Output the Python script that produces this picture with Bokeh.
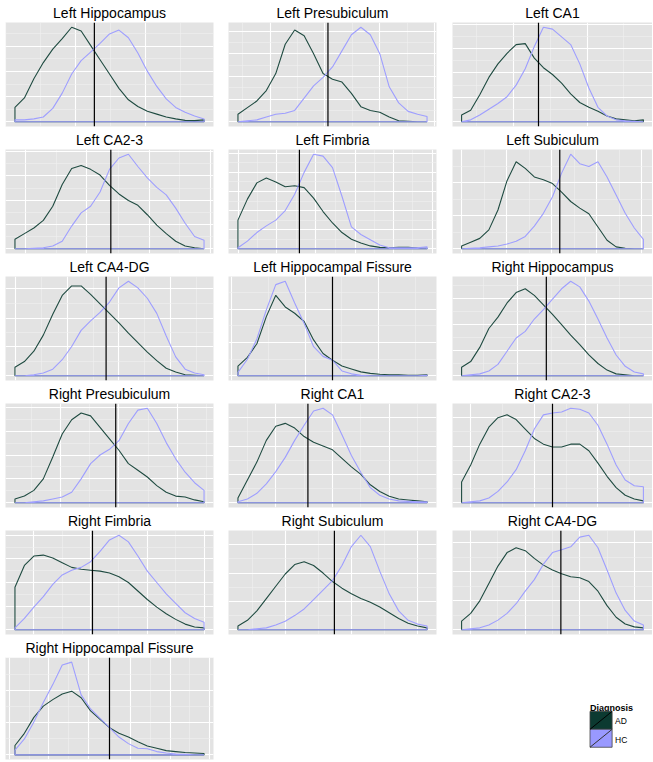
from bokeh.plotting import figure
from bokeh.layouts import gridplot
from bokeh.models import Range1d, Span, FixedTicker, Grid
from bokeh.embed import file_html
from bokeh.resources import INLINE
from bokeh.core.properties import value

# ---------------- data ----------------
# position along each region's value range (0 = min, 1 = max of pooled data)
density_x = [0.00, 0.05, 0.10, 0.15, 0.20, 0.25, 0.30, 0.35, 0.40, 0.45, 0.50,
             0.55, 0.60, 0.65, 0.70, 0.75, 0.80, 0.85, 0.90, 0.95, 1.00]

regions = ["Left Hippocampus", "Left Presubiculum", "Left CA1",
           "Left CA2-3", "Left Fimbria", "Left Subiculum",
           "Left CA4-DG", "Left Hippocampal Fissure", "Right Hippocampus",
           "Right Presubiculum", "Right CA1", "Right CA2-3",
           "Right Fimbria", "Right Subiculum", "Right CA4-DG",
           "Right Hippocampal Fissure"]

diagnoses = ["AD", "HC"]
legend_title = "Diagnosis"

# relative density, AD group
ad_left_hippocampus = [0.15, 0.25, 0.45, 0.62, 0.76, 0.87, 0.99, 0.95, 0.80, 0.65, 0.50, 0.35, 0.23, 0.16, 0.11, 0.08, 0.05, 0.03, 0.015, 0.012, 0.02]
ad_left_presubiculum = [0.08, 0.15, 0.22, 0.33, 0.51, 0.82, 0.97, 0.91, 0.72, 0.51, 0.45, 0.42, 0.30, 0.16, 0.12, 0.10, 0.05, 0.01, 0.005, 0.0, 0.0]
ad_left_ca1 = [0.07, 0.12, 0.28, 0.46, 0.60, 0.71, 0.80, 0.81, 0.66, 0.56, 0.49, 0.40, 0.29, 0.20, 0.15, 0.11, 0.06, 0.03, 0.02, 0.01, 0.02]
ad_left_ca23 = [0.10, 0.16, 0.22, 0.30, 0.45, 0.68, 0.85, 0.88, 0.84, 0.78, 0.67, 0.58, 0.51, 0.46, 0.36, 0.25, 0.16, 0.08, 0.03, 0.01, 0.0]
ad_left_fimbria = [0.30, 0.52, 0.69, 0.74, 0.70, 0.65, 0.66, 0.64, 0.53, 0.39, 0.27, 0.17, 0.10, 0.06, 0.03, 0.015, 0.01, 0.015, 0.015, 0.008, 0.005]
ad_left_subiculum = [0.03, 0.07, 0.11, 0.20, 0.41, 0.72, 0.92, 0.85, 0.76, 0.73, 0.69, 0.60, 0.50, 0.43, 0.37, 0.23, 0.09, 0.02, 0.005, 0.0, 0.0]
ad_left_ca4dg = [0.09, 0.15, 0.26, 0.43, 0.65, 0.85, 0.95, 0.95, 0.86, 0.76, 0.66, 0.56, 0.45, 0.35, 0.25, 0.16, 0.08, 0.04, 0.01, 0.005, 0.0]
ad_left_fissure = [0.10, 0.19, 0.33, 0.61, 0.83, 0.71, 0.645, 0.56, 0.37, 0.23, 0.16, 0.10, 0.07, 0.04, 0.025, 0.015, 0.01, 0.01, 0.005, 0.005, 0.01]
ad_right_hippocampus = [0.09, 0.15, 0.30, 0.50, 0.62, 0.77, 0.88, 0.92, 0.85, 0.75, 0.65, 0.54, 0.43, 0.33, 0.22, 0.13, 0.06, 0.02, 0.01, 0.0, 0.0]
ad_right_presubiculum = [0.04, 0.07, 0.13, 0.25, 0.48, 0.72, 0.87, 0.94, 0.91, 0.79, 0.67, 0.55, 0.41, 0.34, 0.27, 0.18, 0.11, 0.07, 0.06, 0.03, 0.01]
ad_right_ca1 = [0.05, 0.24, 0.43, 0.66, 0.81, 0.84, 0.79, 0.70, 0.64, 0.60, 0.56, 0.47, 0.38, 0.30, 0.19, 0.12, 0.07, 0.04, 0.03, 0.02, 0.01]
ad_right_ca23 = [0.22, 0.40, 0.62, 0.80, 0.90, 0.93, 0.88, 0.78, 0.68, 0.62, 0.59, 0.59, 0.62, 0.62, 0.55, 0.42, 0.28, 0.16, 0.08, 0.04, 0.02]
ad_right_fimbria = [0.45, 0.68, 0.78, 0.79, 0.76, 0.71, 0.66, 0.64, 0.63, 0.62, 0.60, 0.56, 0.50, 0.41, 0.32, 0.24, 0.17, 0.11, 0.06, 0.03, 0.02]
ad_right_subiculum = [0.04, 0.10, 0.20, 0.33, 0.46, 0.59, 0.69, 0.72, 0.68, 0.60, 0.51, 0.44, 0.38, 0.33, 0.29, 0.24, 0.18, 0.12, 0.07, 0.04, 0.02]
ad_right_ca4dg = [0.09, 0.17, 0.30, 0.48, 0.66, 0.80, 0.85, 0.82, 0.74, 0.67, 0.62, 0.58, 0.55, 0.54, 0.50, 0.40, 0.25, 0.13, 0.06, 0.03, 0.02]
ad_right_fissure = [0.10, 0.23, 0.40, 0.52, 0.59, 0.65, 0.68, 0.61, 0.47, 0.38, 0.29, 0.23, 0.19, 0.14, 0.095, 0.07, 0.045, 0.035, 0.025, 0.02, 0.015]

# relative density, HC group
hc_left_hippocampus = [0.02, 0.02, 0.03, 0.05, 0.14, 0.30, 0.50, 0.64, 0.73, 0.82, 0.92, 0.96, 0.88, 0.72, 0.53, 0.37, 0.24, 0.15, 0.10, 0.06, 0.03]
hc_left_presubiculum = [0.0, 0.01, 0.02, 0.05, 0.08, 0.09, 0.12, 0.25, 0.38, 0.47, 0.58, 0.75, 0.92, 1.0, 0.92, 0.72, 0.37, 0.20, 0.11, 0.08, 0.055]
hc_left_ca1 = [0.0, 0.02, 0.07, 0.13, 0.19, 0.26, 0.38, 0.55, 0.78, 0.98, 0.96, 0.88, 0.80, 0.60, 0.35, 0.15, 0.06, 0.02, 0.01, 0.005, 0.0]
hc_left_ca23 = [0.0, 0.0, 0.005, 0.01, 0.03, 0.08, 0.24, 0.38, 0.45, 0.60, 0.84, 0.96, 1.0, 0.87, 0.75, 0.65, 0.57, 0.43, 0.27, 0.13, 0.09]
hc_left_fimbria = [0.01, 0.08, 0.17, 0.24, 0.30, 0.40, 0.57, 0.80, 0.99, 0.97, 0.85, 0.55, 0.23, 0.15, 0.095, 0.04, 0.01, 0.01, 0.01, 0.01, 0.02]
hc_left_subiculum = [0.0, 0.005, 0.01, 0.02, 0.03, 0.05, 0.08, 0.13, 0.24, 0.375, 0.55, 0.80, 1.0, 0.90, 0.87, 0.92, 0.76, 0.57, 0.375, 0.22, 0.10]
hc_left_ca4dg = [0.0, 0.0, 0.01, 0.03, 0.07, 0.17, 0.31, 0.48, 0.58, 0.67, 0.78, 0.93, 1.0, 0.93, 0.82, 0.66, 0.42, 0.20, 0.07, 0.03, 0.01]
hc_left_fissure = [0.035, 0.17, 0.38, 0.68, 0.94, 0.975, 0.75, 0.54, 0.30, 0.20, 0.16, 0.05, 0.02, 0.005, 0.0, 0.0, 0.0, 0.0, 0.0, 0.0, 0.005]
hc_right_hippocampus = [0.0, 0.01, 0.02, 0.05, 0.12, 0.26, 0.40, 0.47, 0.60, 0.70, 0.81, 0.92, 1.0, 0.94, 0.79, 0.60, 0.40, 0.22, 0.10, 0.04, 0.02]
hc_right_presubiculum = [0.0, 0.0, 0.01, 0.02, 0.04, 0.06, 0.11, 0.25, 0.41, 0.50, 0.56, 0.65, 0.83, 0.97, 0.99, 0.83, 0.63, 0.46, 0.32, 0.21, 0.13]
hc_right_ca1 = [0.01, 0.04, 0.10, 0.20, 0.33, 0.48, 0.66, 0.82, 0.97, 1.0, 0.93, 0.72, 0.50, 0.32, 0.16, 0.08, 0.04, 0.02, 0.015, 0.01, 0.01]
hc_right_ca23 = [0.0, 0.01, 0.02, 0.05, 0.12, 0.22, 0.35, 0.55, 0.78, 0.93, 0.95, 0.96, 1.0, 0.99, 0.95, 0.82, 0.62, 0.40, 0.24, 0.18, 0.17]
hc_right_fimbria = [0.02, 0.12, 0.24, 0.35, 0.48, 0.58, 0.63, 0.66, 0.72, 0.83, 0.95, 1.0, 0.93, 0.78, 0.62, 0.50, 0.38, 0.28, 0.18, 0.12, 0.08]
hc_right_subiculum = [0.0, 0.0, 0.01, 0.02, 0.05, 0.09, 0.15, 0.22, 0.32, 0.42, 0.52, 0.68, 0.88, 1.0, 0.88, 0.62, 0.38, 0.20, 0.10, 0.06, 0.04]
hc_right_ca4dg = [0.0, 0.01, 0.02, 0.05, 0.10, 0.17, 0.27, 0.40, 0.52, 0.68, 0.80, 0.83, 0.86, 0.96, 0.98, 0.85, 0.62, 0.38, 0.20, 0.09, 0.05]
hc_right_fissure = [0.05, 0.17, 0.35, 0.56, 0.75, 0.96, 0.99, 0.64, 0.49, 0.39, 0.29, 0.19, 0.12, 0.07, 0.065, 0.035, 0.02, 0.01, 0.005, 0.0, 0.0]

# vertical reference line (cut-off) for each region, on the same 0..1 scale
cutoffs = [0.42, 0.476, 0.423, 0.507, 0.325, 0.54, 0.482, 0.50,
           0.466, 0.533, 0.37, 0.50, 0.41, 0.51, 0.546, 0.50]

# major grid breaks of each panel (x on the 0..1 scale, y in relative density)
x_breaks = [[0.32, 0.69], [0.17, 0.46, 0.75], [0.286, 0.69],
            [0.058, 0.38, 0.71], [0.0035, 0.206, 0.41, 0.62, 0.824], [0.0, 0.248, 0.496, 0.743],
            [0.005, 0.278, 0.55, 0.824], [0.356, 0.744], [0.307, 0.683],
            [0.243, 0.55, 0.86], [0.2, 0.5, 0.8], [0.05, 0.4, 0.75],
            [0.1, 0.4, 0.7, 1.0], [0.25, 0.6, 0.95], [0.05, 0.35, 0.65, 0.95],
            [0.18, 0.39, 0.61, 0.82]]
y_breaks = [[0, 0.26, 0.53, 0.79], [0, 0.24, 0.48, 0.72, 0.96], [0, 0.25, 0.51, 0.76],
            [0, 0.255, 0.51, 0.77], [0, 0.2, 0.4, 0.6, 0.8, 1.0], [0, 0.35, 0.70, 1.05],
            [0, 0.306, 0.61, 0.92], [0, 0.343, 0.686, 1.03], [0, 0.27, 0.54, 0.82],
            [0, 0.25, 0.5, 0.75, 1.0], [0, 0.3, 0.6, 0.9], [0, 0.3, 0.6, 0.9],
            [0, 0.25, 0.5, 0.75, 1.0], [0, 0.3, 0.6, 0.9], [0, 0.3, 0.6, 0.9],
            [0, 0.345, 0.69, 1.035]]

ad_series = [ad_left_hippocampus, ad_left_presubiculum, ad_left_ca1, ad_left_ca23,
             ad_left_fimbria, ad_left_subiculum, ad_left_ca4dg, ad_left_fissure,
             ad_right_hippocampus, ad_right_presubiculum, ad_right_ca1, ad_right_ca23,
             ad_right_fimbria, ad_right_subiculum, ad_right_ca4dg, ad_right_fissure]
hc_series = [hc_left_hippocampus, hc_left_presubiculum, hc_left_ca1, hc_left_ca23,
             hc_left_fimbria, hc_left_subiculum, hc_left_ca4dg, hc_left_fissure,
             hc_right_hippocampus, hc_right_presubiculum, hc_right_ca1, hc_right_ca23,
             hc_right_fimbria, hc_right_subiculum, hc_right_ca4dg, hc_right_fissure]

# ---------------- styling ----------------
FONT = "Liberation Sans"
AD_LINE = "#1f4b41"
HC_LINE = "#9e9eff"
AD_FILL = "#0c3a31"
HC_FILL = "#9999ff"
PANEL_BG = "#E3E3E3"

COL_W = [220, 224, 208]
COL_BL = [5, 8, 8]
COL_BR = [7, 8, 0]
ROW_H = [127, 127, 127, 127, 127, 125]
ROW_BB = [1, 1, 1, 1, 1, 1]


def make_ticker(majors):
    step = majors[1] - majors[0]
    full = [majors[0] - step] + list(majors) + [majors[-1] + step]
    minors = [(a + b) / 2 for a, b in zip(full[:-1], full[1:])]
    return FixedTicker(ticks=full, minor_ticks=minors)


def make_panel(i):
    col, row = i % 3, i // 3
    ad = ad_series[i]
    hc = hc_series[i]
    ymax = max(max(ad), max(hc))
    p = figure(width=COL_W[col], height=ROW_H[row],
               x_range=Range1d(-0.05, 1.05), y_range=Range1d(-0.05 * ymax, 1.05 * ymax),
               x_axis_location=None, y_axis_location=None,
               toolbar_location=None, output_backend="svg",
               min_border_left=COL_BL[col], min_border_right=COL_BR[col],
               min_border_top=22, min_border_bottom=ROW_BB[row],
               background_fill_color=PANEL_BG, border_fill_color="white",
               outline_line_color=None, title=regions[i])
    p.grid.visible = False
    for dim, majors in ((0, x_breaks[i]), (1, y_breaks[i])):
        p.add_layout(Grid(dimension=dim, ticker=make_ticker(majors),
                          grid_line_color="white", grid_line_width=1.1,
                          minor_grid_line_color="#F0F0F0", minor_grid_line_width=0.6))
    p.title.align = "center"
    p.title.text_font = FONT
    p.title.text_font_size = "14px"
    p.title.text_font_style = "normal"
    p.title.text_color = "black"
    p.title.standoff = 3

    px = [density_x[0]] + density_x + [density_x[-1]]
    p.patch(px, [0] + ad + [0], fill_color=None, line_color=AD_LINE, line_width=1.1)
    p.patch(px, [0] + hc + [0], fill_color=None, line_color=HC_LINE, line_width=1.1)
    p.add_layout(Span(location=cutoffs[i], dimension="height",
                      line_color="black", line_width=1.2))
    return p


panels = [make_panel(i) for i in range(len(regions))]

# legend drawn in its own small figure (pixel coordinates, y downwards)
LW, LH = COL_W[2], ROW_H[5]
lg = figure(width=LW, height=LH, x_range=Range1d(0, LW), y_range=Range1d(LH, 0),
            x_axis_location=None, y_axis_location=None, toolbar_location=None,
            output_backend="svg", min_border=0, outline_line_color=None,
            border_fill_color="white", background_fill_color="white")
lg.grid.visible = False
lg.text(x=[143], y=[62], text=[legend_title], text_font=value(FONT), text_font_style="bold",
        text_font_size="9px", text_baseline="alphabetic", text_color="black")
lg.quad(left=[143, 143], right=[166, 166], top=[66, 88], bottom=[88, 110],
        fill_color=[AD_FILL, HC_FILL], line_color="#444444", line_width=0.8)
lg.segment(x0=[143, 143], y0=[88, 110], x1=[166, 166], y1=[66, 88],
           line_color=["black", "#333333"], line_width=1)
lg.text(x=[169, 169], y=[78, 101], text=diagnoses, text_font=value(FONT),
        text_font_size="8.5px", text_baseline="middle", text_color="black")

rows = [panels[0:3], panels[3:6], panels[6:9], panels[9:12], panels[12:15],
        [panels[15], None, lg]]
layout = gridplot(rows, toolbar_location=None)

open("out.html", "w").write(file_html(layout, INLINE))
